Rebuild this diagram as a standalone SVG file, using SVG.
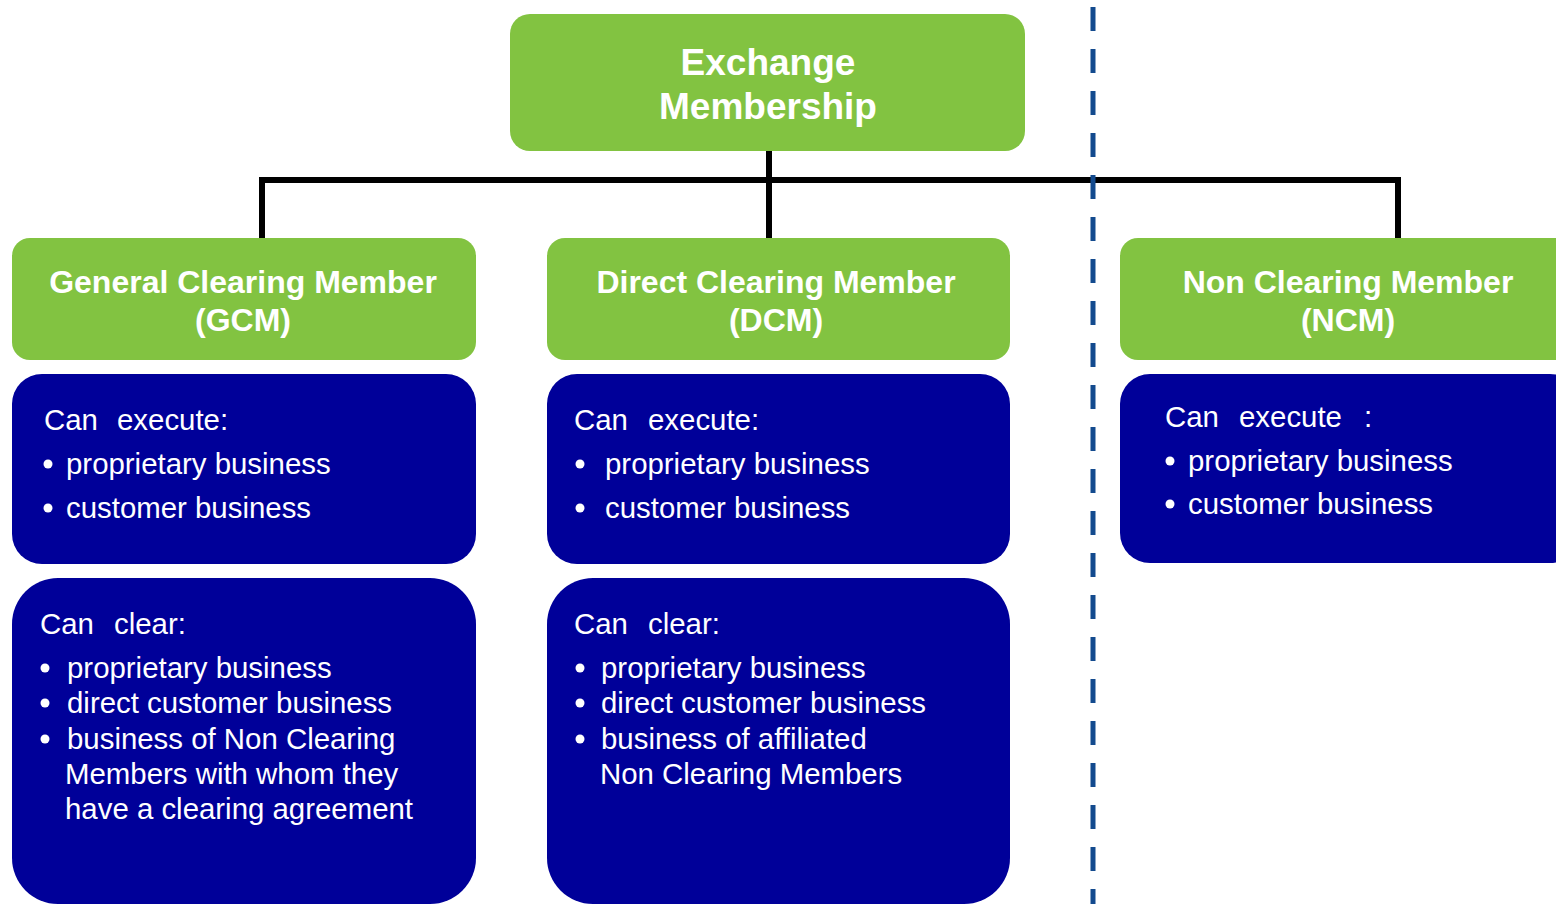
<svg xmlns="http://www.w3.org/2000/svg" width="1556" height="904" viewBox="0 0 1556 904">
<style>
.green{fill:#82C341}
.blue{fill:#000099}
.hdr{font-family:"Liberation Sans",Arial,sans-serif;font-weight:bold;font-size:32px;fill:#fff;text-anchor:middle}
.top{font-size:37px}
.body{font-family:"Liberation Sans",Arial,sans-serif;font-size:29.4px;fill:#fff}
.bul{fill:#fff}
.conn{stroke:#000;stroke-width:6;fill:none}
.div{stroke:#134A8E;stroke-width:5;stroke-dasharray:24 18;fill:none}
</style>
<rect width="1556" height="904" fill="#fff"/>
<g id="connectors">
<path class="conn" d="M769 150 V238 M259 180 H1401 M262 180 V238 M1398 180 V238"/>
</g>
<g id="divider">
<line class="div" x1="1093" y1="7" x2="1093" y2="904"/>
</g>
<g id="exchange">
<rect class="green" x="510" y="14" width="515" height="137" rx="20"/>
<text class="hdr top" x="768" y="75">Exchange</text>
<text class="hdr top" x="768" y="119">Membership</text>
</g>
<g id="gcm">
<rect class="green" x="12" y="238" width="464" height="122" rx="18"/>
<text class="hdr" x="243" y="293">General Clearing Member</text>
<text class="hdr" x="243" y="331">(GCM)</text>
</g>
<g id="gcm-execute">
<rect class="blue" x="12" y="374" width="464" height="190" rx="30"/>
<text class="body" x="44" y="430">Can<tspan x="117">execute:</tspan></text>
<circle class="bul" cx="48" cy="464" r="4.5"/>
<text class="body" x="66" y="474">proprietary business</text>
<circle class="bul" cx="48" cy="508" r="4.5"/>
<text class="body" x="66" y="518">customer business</text>
</g>
<g id="gcm-clear">
<rect class="blue" x="12" y="578" width="464" height="326" rx="46"/>
<text class="body" x="40" y="634">Can<tspan x="114">clear:</tspan></text>
<circle class="bul" cx="45" cy="668" r="4.5"/>
<text class="body" x="67" y="678">proprietary business</text>
<circle class="bul" cx="45" cy="703" r="4.5"/>
<text class="body" x="67" y="713">direct customer business</text>
<circle class="bul" cx="45" cy="739" r="4.5"/>
<text class="body" x="67" y="749">business of Non Clearing</text>
<text class="body" x="65" y="784">Members with whom they</text>
<text class="body" x="65" y="819">have a clearing agreement</text>
</g>
<g id="dcm">
<rect class="green" x="547" y="238" width="463" height="122" rx="18"/>
<text class="hdr" x="776" y="293">Direct Clearing Member</text>
<text class="hdr" x="776" y="331">(DCM)</text>
</g>
<g id="dcm-execute">
<rect class="blue" x="547" y="374" width="463" height="190" rx="30"/>
<text class="body" x="574" y="430">Can<tspan x="648">execute:</tspan></text>
<circle class="bul" cx="580" cy="464" r="4.5"/>
<text class="body" x="605" y="474">proprietary business</text>
<circle class="bul" cx="580" cy="508" r="4.5"/>
<text class="body" x="605" y="518">customer business</text>
</g>
<g id="dcm-clear">
<rect class="blue" x="547" y="578" width="463" height="326" rx="46"/>
<text class="body" x="574" y="634">Can<tspan x="648">clear:</tspan></text>
<circle class="bul" cx="580" cy="668" r="4.5"/>
<text class="body" x="601" y="678">proprietary business</text>
<circle class="bul" cx="580" cy="703" r="4.5"/>
<text class="body" x="601" y="713">direct customer business</text>
<circle class="bul" cx="580" cy="739" r="4.5"/>
<text class="body" x="601" y="749">business of affiliated</text>
<text class="body" x="600" y="784">Non Clearing Members</text>
</g>
<g id="ncm">
<rect class="green" x="1120" y="238" width="460" height="122" rx="18"/>
<text class="hdr" x="1348" y="293">Non Clearing Member</text>
<text class="hdr" x="1348" y="331">(NCM)</text>
</g>
<g id="ncm-execute">
<rect class="blue" x="1120" y="374" width="460" height="189" rx="30"/>
<text class="body" x="1165" y="427">Can<tspan x="1239">execute</tspan><tspan x="1364">:</tspan></text>
<circle class="bul" cx="1170" cy="461" r="4.5"/>
<text class="body" x="1188" y="471">proprietary business</text>
<circle class="bul" cx="1170" cy="504" r="4.5"/>
<text class="body" x="1188" y="514">customer business</text>
</g>
</svg>
